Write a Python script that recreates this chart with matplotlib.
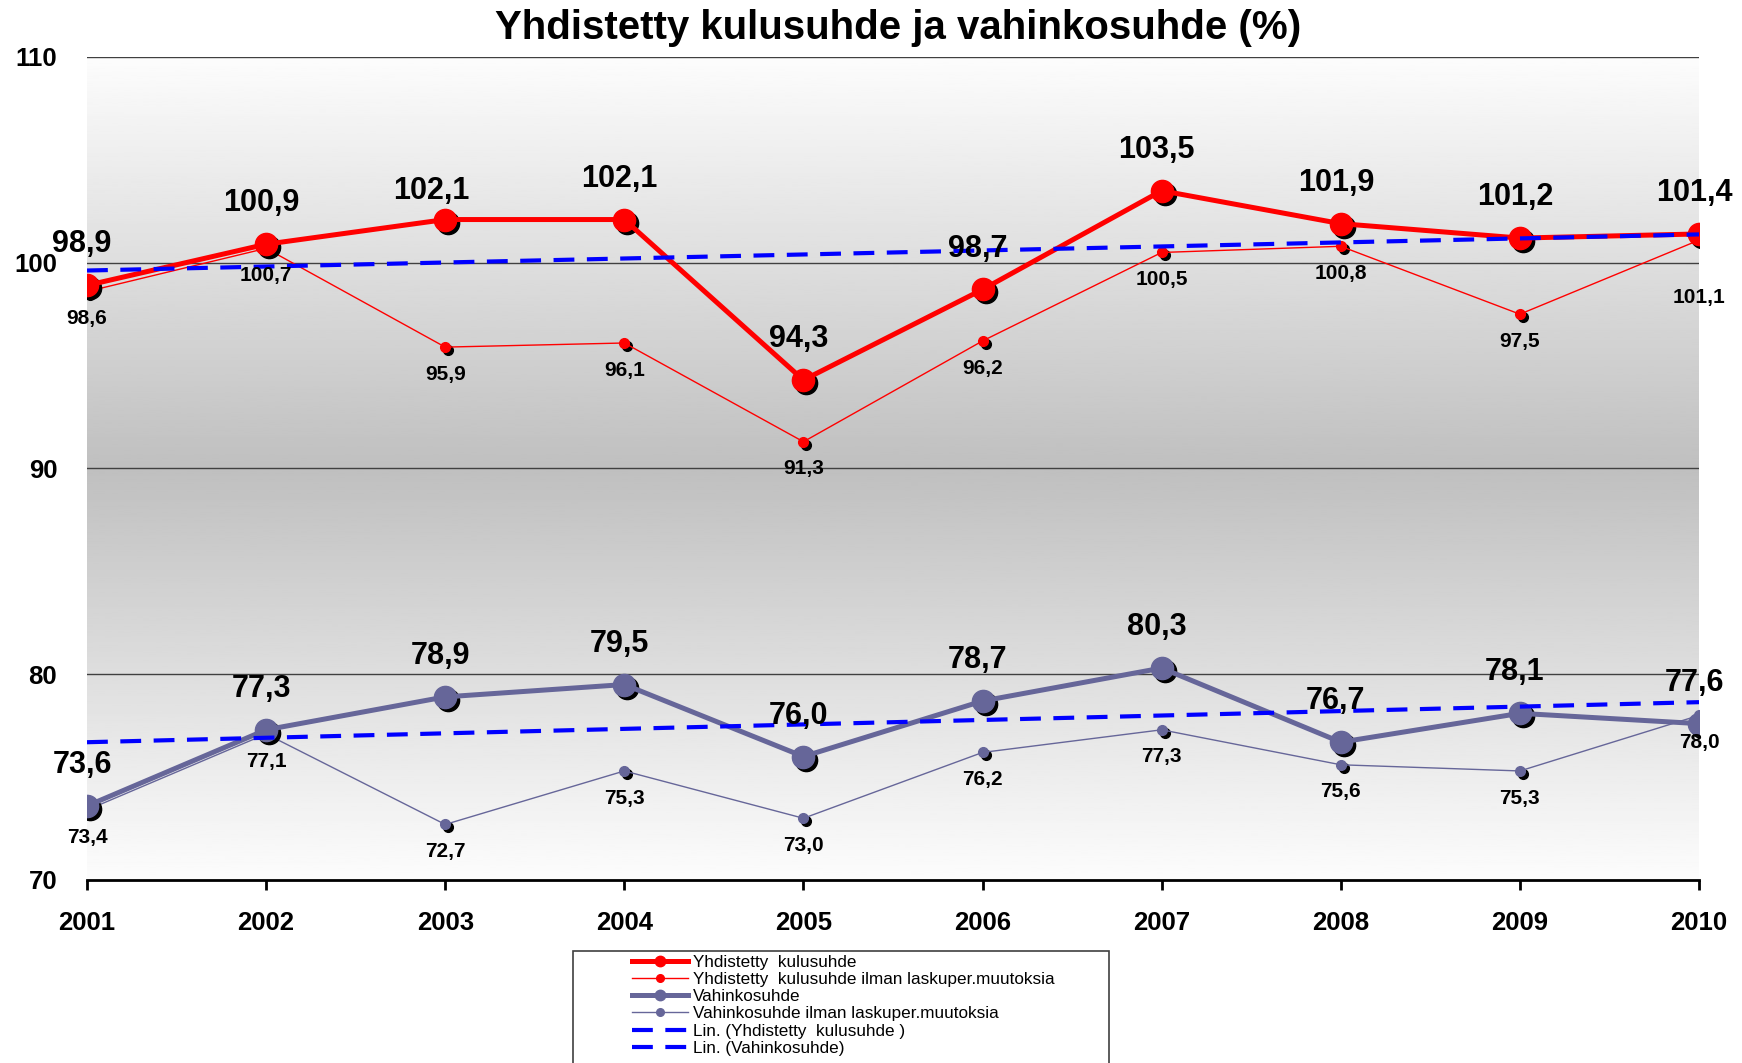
import numpy as np
import matplotlib
matplotlib.use("Agg")
import matplotlib.pyplot as plt
from matplotlib.lines import Line2D
from matplotlib.patches import Rectangle
from matplotlib.transforms import offset_copy

plt.rcParams['font.family'] = ['Liberation Sans', 'DejaVu Sans']

# ---- data ----
years = ["2001", "2002", "2003", "2004", "2005", "2006", "2007", "2008", "2009", "2010"]
yhd = [98.9, 100.9, 102.1, 102.1, 94.3, 98.7, 103.5, 101.9, 101.2, 101.4]
yhd_ilman = [98.6, 100.7, 95.9, 96.1, 91.3, 96.2, 100.5, 100.8, 97.5, 101.1]
vah = [73.6, 77.3, 78.9, 79.5, 76.0, 78.7, 80.3, 76.7, 78.1, 77.6]
vah_ilman = [73.4, 77.1, 72.7, 75.3, 73.0, 76.2, 77.3, 75.6, 75.3, 78.0]
yticks = [70, 80, 90, 100, 110]

title = "Yhdistetty kulusuhde ja vahinkosuhde (%)"
lab_yhd = "Yhdistetty  kulusuhde"
lab_yhd_il = "Yhdistetty  kulusuhde ilman laskuper.muutoksia"
lab_vah = "Vahinkosuhde"
lab_vah_il = "Vahinkosuhde ilman laskuper.muutoksia"
lab_tr1 = "Lin. (Yhdistetty  kulusuhde )"
lab_tr2 = "Lin. (Vahinkosuhde)"

RED = "#FF0000"
PURP = "#666699"
BLUE = "#0000FF"

W, H = 1742, 1063
fig = plt.figure(figsize=(W / 100, H / 100), dpi=100)
ax = fig.add_axes([87 / W, (H - 880) / H, (1699 - 87) / W, (880 - 57) / H])

x = np.arange(len(years))
ax.set_xlim(0, len(years) - 1)
ax.set_ylim(70, 110)

# gradient background
ys = np.linspace(70, 110, 400)
vals = np.interp(ys, [70, 90, 110], [0.99, 0.75, 0.99])
ax.imshow(vals[:, None], extent=[0, len(years) - 1, 70, 110], aspect='auto',
          cmap='gray', vmin=0, vmax=1, origin='lower', zorder=0)

for yv in yticks[1:]:
    ax.axhline(yv, color='#404040', lw=1.0, zorder=1)

shadow = offset_copy(ax.transData, fig=fig, x=3, y=-3, units='dots')

def series(vals_, color, lw, ms, z):
    ax.plot(x, vals_, ls='none', marker='o', ms=ms, color='black', mec='black',
            transform=shadow, zorder=z)
    ax.plot(x, vals_, color=color, lw=lw, marker='o', ms=ms, mec=color, zorder=z + 0.5)

series(yhd_ilman, RED, 1.0, 7, 3)
series(vah_ilman, PURP, 1.0, 7, 3)
series(yhd, RED, 3.6, 16, 4)
series(vah, PURP, 3.6, 16, 4)

# linear trends
for s in (yhd, vah):
    c = np.polyfit(x, s, 1)
    ax.plot(x, np.polyval(c, x), color=BLUE, lw=3, dashes=(5, 3), zorder=5)

def fmt(v):
    return f"{v:.1f}".replace(".", ",")

big_override = {("yhd", 2): (-10, 20.5)}
for name, s in (("yhd", yhd), ("vah", vah)):
    for i, v in enumerate(s):
        off = big_override.get((name, i), (-3.5, 29.5))
        ax.annotate(fmt(v), (x[i], v), xytext=off, textcoords='offset points',
                    ha='center', va='center', fontsize=22, fontweight='bold', zorder=7)
small_override = {("yhd", 9): -41}
for name, s in (("yhd", yhd_ilman), ("vah", vah_ilman)):
    for i, v in enumerate(s):
        dy = small_override.get((name, i), -19.5)
        ax.annotate(fmt(v), (x[i], v), xytext=(0, dy), textcoords='offset points',
                    ha='center', va='center', fontsize=15, fontweight='bold', zorder=7)

# axes styling
for sp in ('left', 'right', 'top'):
    ax.spines[sp].set_visible(False)
ax.spines['bottom'].set_linewidth(2)
ax.spines['bottom'].set_zorder(6)
ax.set_xticks(x)
ax.set_xticklabels(years, fontsize=18.5, fontweight='bold')
ax.set_yticks(yticks)
ax.set_yticklabels([str(t) for t in yticks], fontsize=18.5, fontweight='bold')
ax.tick_params(axis='x', direction='out', length=7, width=2, pad=15.5)
ax.tick_params(axis='y', length=0, pad=21.5)

fig.text(0.5155, 1 - 28 / H, title, ha='center', va='center', fontsize=29, fontweight='bold')

# legend box
fig.patches.append(Rectangle((573 / W, -0.02), (1109 - 573) / W, (H - 951) / H + 0.02,
                             transform=fig.transFigure, facecolor='white',
                             edgecolor='#404040', lw=1.2, zorder=0))
handles = [
    Line2D([], [], color=RED, lw=3.6, marker='o', ms=7.5),
    Line2D([], [], color=RED, lw=1.0, marker='o', ms=5.5),
    Line2D([], [], color=PURP, lw=3.6, marker='o', ms=7.5),
    Line2D([], [], color=PURP, lw=1.0, marker='o', ms=5.5),
    Line2D([], [], color=BLUE, lw=3, dashes=(5, 3)),
    Line2D([], [], color=BLUE, lw=3, dashes=(5, 3)),
]
labels = [lab_yhd, lab_yhd_il, lab_vah, lab_vah_il, lab_tr1, lab_tr2]
fig.legend(handles, labels, loc='upper left', bbox_to_anchor=(632 / W, 1 - 955 / H),
           frameon=False, fontsize=12.3, handlelength=3.28, handletextpad=0.29,
           labelspacing=0.125, borderpad=0, borderaxespad=0)

fig.savefig("out.png", dpi=100)
